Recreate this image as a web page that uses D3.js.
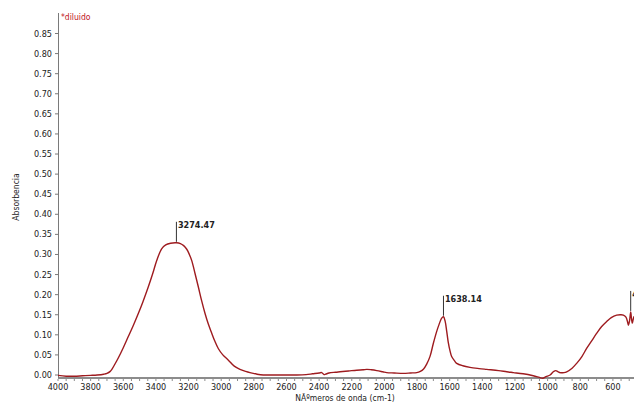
<!DOCTYPE html>
<head>
  <meta charset="utf-8">
  <title>Absorbencia</title>
  <style>
    body { margin: 0; background: #fff; }
    text { font-family: "Liberation Sans Narrow", "DejaVu Sans Condensed", "Liberation Sans", sans-serif; }
  </style>
</head>
<body>
<script src="https://d3js.org/d3.v7.min.js"></script>
<script>
// wavenumber (cm-1) and absorbance
var wavenumbers = [4000,3950,3900,3850,3800,3760,3720,3700,3680,3670,3650,3630,3600,3570,3540,3508,3480,3447,3420,3395,3365,3340,3310,3274,3250,3230,3211,3195,3180,3160,3140,3120,3099,3080,3058,3040,3018,2990,2956,2920,2885,2850,2824,2780,2742,2700,2640,2580,2537,2480,2440,2400,2384,2370,2360,2340,2300,2272,2220,2170,2130,2108,2080,2047,2010,1986,1940,1884,1840,1802,1780,1760,1741,1720,1700,1680,1665,1650,1638,1628,1618,1609,1598,1588,1570,1557,1520,1476,1420,1373,1300,1250,1210,1150,1088,1050,1030,1010,985,965,950,935,924,900,883,850,822,790,761,730,699,670,638,610,577,550,536,520,510,505,498,491,486,481,476,471,460];
var absorbance = [-0.001,-0.003,-0.003,-0.002,-0.001,0.000,0.002,0.004,0.009,0.014,0.028,0.043,0.068,0.095,0.122,0.153,0.182,0.219,0.252,0.285,0.314,0.324,0.328,0.329,0.327,0.322,0.313,0.300,0.284,0.252,0.219,0.185,0.153,0.128,0.104,0.085,0.066,0.050,0.037,0.022,0.014,0.009,0.006,0.002,0.000,0.000,0.000,0.000,0.000,0.001,0.003,0.005,0.006,0.001,0.002,0.005,0.007,0.008,0.010,0.012,0.013,0.014,0.013,0.011,0.008,0.006,0.005,0.004,0.005,0.006,0.009,0.015,0.027,0.047,0.079,0.108,0.126,0.141,0.145,0.134,0.108,0.082,0.060,0.046,0.035,0.029,0.023,0.019,0.016,0.014,0.011,0.008,0.006,0.003,-0.002,-0.006,-0.008,-0.004,0.000,0.008,0.011,0.008,0.006,0.006,0.008,0.017,0.029,0.046,0.066,0.085,0.104,0.120,0.133,0.143,0.149,0.150,0.149,0.144,0.132,0.124,0.135,0.157,0.140,0.129,0.138,0.145,0.130];

// peak labels
var peakWn = [3274.47, 1638.14, 490.96];
var peakA = [0.329, 0.145, 0.157];

var xTicks = d3.range(4000, 599, -200);
var yTicks = d3.range(0, 0.851, 0.05);

var width = 634, height = 403;

var x = d3.scaleLinear().domain([4000, 600]).range([58, 612.9]);
var y = d3.scaleLinear().domain([0, 0.85]).range([375, 33.5]);

var svg = d3.select("body").append("svg")
    .attr("width", width)
    .attr("height", height);

// x axis line + ticks
svg.append("line")
    .attr("x1", 58).attr("x2", width)
    .attr("y1", 378).attr("y2", 378)
    .attr("stroke", "#8c8c8c").attr("stroke-width", 2);

svg.selectAll(".minor")
    .data(d3.range(4000, 440, -50))
  .enter().append("line")
    .attr("class", "minor")
    .attr("x1", d => x(d)).attr("x2", d => x(d))
    .attr("y1", 379).attr("y2", 381)
    .attr("stroke", "#8c8c8c").attr("stroke-width", 1);

svg.selectAll(".xlab")
    .data(xTicks)
  .enter().append("text")
    .attr("class", "xlab")
    .attr("x", d => x(d))
    .attr("y", 390)
    .attr("text-anchor", "middle")
    .style("font-size", "9px")
    .attr("fill", "#222")
    .text(d => d);

// y axis
svg.append("line")
    .attr("x1", 58.5).attr("x2", 58.5)
    .attr("y1", 13).attr("y2", 378)
    .attr("stroke", "#7a7a7a").attr("stroke-width", 1);

svg.selectAll(".ytick")
    .data(yTicks)
  .enter().append("line")
    .attr("class", "ytick")
    .attr("x1", 55).attr("x2", 58)
    .attr("y1", d => y(d)).attr("y2", d => y(d))
    .attr("stroke", "#7a7a7a");

svg.selectAll(".ylab")
    .data(yTicks)
  .enter().append("text")
    .attr("class", "ylab")
    .attr("x", 52)
    .attr("y", d => y(d) + 3)
    .attr("text-anchor", "end")
    .style("font-size", "9px")
    .attr("fill", "#222")
    .text(d => d3.format(".2f")(d));

// axis titles
svg.append("text")
    .attr("x", 345).attr("y", 401)
    .attr("text-anchor", "middle")
    .style("font-size", "8.5px")
    .attr("fill", "#222")
    .text("NÃºmeros de onda (cm-1)");

svg.append("text")
    .attr("transform", "translate(19,197) rotate(-90)")
    .attr("text-anchor", "middle")
    .style("font-size", "8.5px")
    .attr("fill", "#222")
    .text("Absorbencia");

svg.append("text")
    .attr("x", 61).attr("y", 20)
    .style("font-size", "8.5px")
    .attr("fill", "#c0141c")
    .text("*diluido");

// spectrum
var pts = wavenumbers.map((w, i) => [w, absorbance[i]]);
var line = d3.line()
    .x(d => x(d[0]))
    .y(d => y(d[1]))
    .curve(d3.curveCatmullRom.alpha(0.5));

svg.append("path")
    .datum(pts)
    .attr("d", line)
    .attr("fill", "none")
    .attr("stroke", "#9e1b1f")
    .attr("stroke-width", 1.4);

// peak markers
peakWn.forEach(function(w, i) {
  var px = x(w);
  svg.append("line")
      .attr("x1", px).attr("x2", px)
      .attr("y1", y(peakA[i]) - 1).attr("y2", y(peakA[i]) - 21)
      .attr("stroke", "#333").attr("stroke-width", 1);
  svg.append("text")
      .attr("x", px + 1.5).attr("y", y(peakA[i]) - 15)
      .style("font-size", "9px")
      .style("font-weight", "bold")
      .attr("fill", "#222")
      .text(w.toFixed(2));
});
</script>
</body>
